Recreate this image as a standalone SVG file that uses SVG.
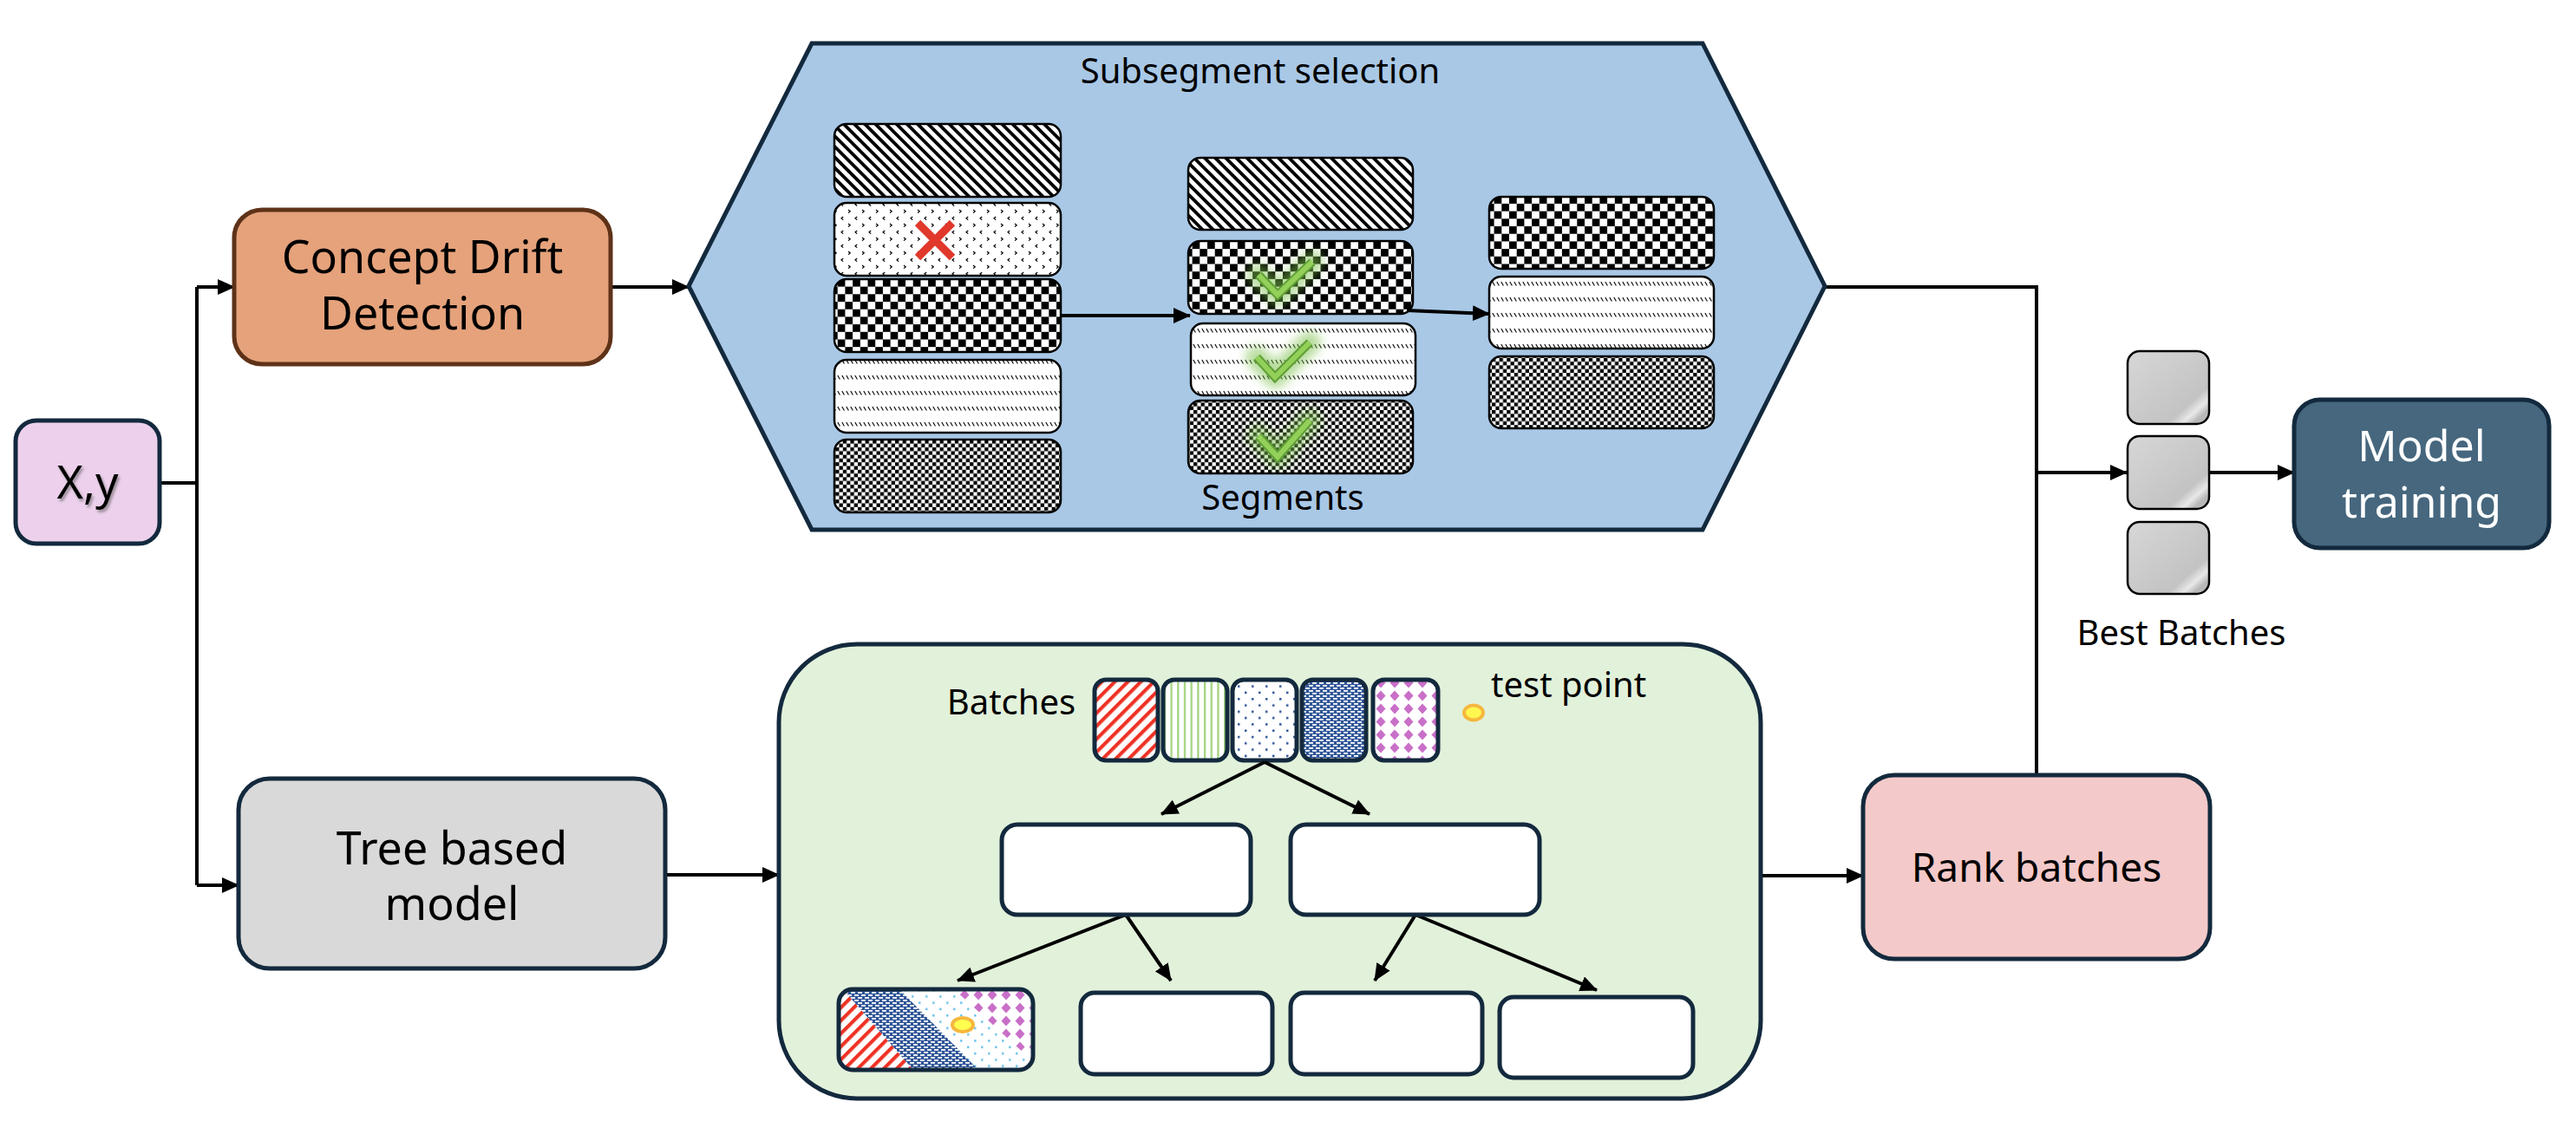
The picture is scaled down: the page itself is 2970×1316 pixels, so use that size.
<svg xmlns="http://www.w3.org/2000/svg" width="2970" height="1316" viewBox="0 0 2970 1316">
<style>
text { font-family: "Noto Sans", "Open Sans", "DejaVu Sans", sans-serif; fill: #000; }
.node { stroke: #13293D; stroke-width: 5; }
.conn { stroke: #000; stroke-width: 4; fill: none; }
.seg { stroke: #000; stroke-width: 2.5; }
.leaf { fill: #fff; stroke: #13293D; stroke-width: 5; }
.sw { stroke: #13293D; stroke-width: 5; }
.best { fill: url(#gGray); stroke: #000; stroke-width: 2.5; }
.chkglow { stroke: #7CC04A; stroke-width: 26; fill: none; opacity: 0.55; stroke-linecap: round; stroke-linejoin: round; }
.chkedge { stroke: #5E9E35; stroke-width: 10; fill: none; stroke-linejoin: miter; }
.chk { stroke: #93D05A; stroke-width: 6; fill: none; stroke-linejoin: miter; }
</style>
<defs>
  <marker id="ah" markerUnits="userSpaceOnUse" markerWidth="20" markerHeight="18" refX="19" refY="9" orient="auto" viewBox="0 0 20 18">
    <path d="M0,0 L20,9 L0,18 z" fill="#000"/>
  </marker>
  <filter id="shadow" x="-20%" y="-20%" width="140%" height="140%">
    <feDropShadow dx="2" dy="3" stdDeviation="1.5" flood-color="#555" flood-opacity="0.55"/>
  </filter>
  <filter id="glow" x="-50%" y="-50%" width="200%" height="200%">
    <feGaussianBlur stdDeviation="6"/>
  </filter>
  <linearGradient id="gGray" x1="0" y1="0" x2="1" y2="1">
    <stop offset="0" stop-color="#D7D7D7"/>
    <stop offset="0.74" stop-color="#C3C3C3"/>
    <stop offset="0.83" stop-color="#E8E8E8"/>
    <stop offset="0.9" stop-color="#B7B7B7"/>
    <stop offset="1" stop-color="#BEBEBE"/>
  </linearGradient>
  <!-- segment patterns -->
  <pattern id="pDiag" width="8.6" height="20" patternUnits="userSpaceOnUse" patternTransform="rotate(-45)">
    <rect width="8.6" height="20" fill="#fff"/>
    <rect width="3.8" height="20" fill="#000"/>
  </pattern>
  <pattern id="pDivot" width="16" height="16" patternUnits="userSpaceOnUse">
    <rect width="16" height="16" fill="#fff"/>
    <path d="M2,2 L4.2,3.8 L2,5.6 M12.2,10 L10,11.8 L12.2,13.6" stroke="#000" stroke-width="1.2" fill="none"/>
  </pattern>
  <pattern id="pCheckL" width="17.4" height="17.4" patternUnits="userSpaceOnUse">
    <rect width="17.4" height="17.4" fill="#fff"/>
    <rect width="8.7" height="8.7" fill="#000"/>
    <rect x="8.7" y="8.7" width="8.7" height="8.7" fill="#000"/>
  </pattern>
  <pattern id="pCheckS" width="8.6" height="8.6" patternUnits="userSpaceOnUse">
    <rect width="8.6" height="8.6" fill="#fff"/>
    <rect width="4.3" height="4.3" fill="#000"/>
    <rect x="4.3" y="4.3" width="4.3" height="4.3" fill="#000"/>
  </pattern>
  <pattern id="pDashDiag" width="5" height="18" patternUnits="userSpaceOnUse">
    <rect width="5" height="18" fill="#fff"/>
    <path d="M0.8,1 L3.4,5.5" stroke="#000" stroke-width="1.1"/>
  </pattern>
  <!-- batch patterns -->
  <pattern id="pRed" width="10.6" height="20" patternUnits="userSpaceOnUse" patternTransform="rotate(45)">
    <rect width="10.6" height="20" fill="#fff"/>
    <rect width="4.2" height="20" fill="#EE3224"/>
  </pattern>
  <pattern id="pGreen" width="7.7" height="10" patternUnits="userSpaceOnUse">
    <rect width="7.7" height="10" fill="#fff"/>
    <rect x="2" width="2.2" height="10" fill="#9ED27A"/>
  </pattern>
  <pattern id="pDots" width="16" height="14.6" patternUnits="userSpaceOnUse">
    <rect width="16" height="14.6" fill="#fff"/>
    <rect x="3" y="2" width="2.5" height="2.5" fill="#2F5597"/>
    <rect x="11" y="9.3" width="2.5" height="2.5" fill="#2F5597"/>
  </pattern>
  <pattern id="pLightDots" width="16" height="14.6" patternUnits="userSpaceOnUse">
    <rect width="16" height="14.6" fill="#fff"/>
    <rect x="3" y="2" width="2.5" height="2.5" fill="#6EC3EC"/>
    <rect x="11" y="9.3" width="2.5" height="2.5" fill="#6EC3EC"/>
  </pattern>
  <pattern id="pBlueDash" width="8" height="6" patternUnits="userSpaceOnUse">
    <rect width="8" height="6" fill="#2F5597"/>
    <rect x="1" y="1" width="5" height="1.8" fill="#fff"/>
    <rect x="5" y="4" width="3" height="1.8" fill="#fff"/>
    <rect x="0" y="4" width="2" height="1.8" fill="#fff"/>
  </pattern>
  <pattern id="pDiamond" width="16" height="15" patternUnits="userSpaceOnUse">
    <rect width="16" height="15" fill="#fff"/>
    <path d="M8,1.5 L13.5,7.5 L8,13.5 L2.5,7.5 z" fill="#C96FC8"/>
  </pattern>
  <clipPath id="leafClip"><rect x="967" y="1141" width="224" height="93" rx="16"/></clipPath>
</defs>

<rect width="2970" height="1316" fill="#fff"/>

<!-- connectors -->
<g id="connectors">
  <path class="conn" d="M184,557 H227 M227,331 V1021"/>
  <path class="conn" d="M227,331 H270" marker-end="url(#ah)"/>
  <path class="conn" d="M227,1021 H275" marker-end="url(#ah)"/>
  <path class="conn" d="M704,331 H794" marker-end="url(#ah)"/>
  <path class="conn" d="M2104,331 H2348 V894"/>
  <path class="conn" d="M2348,545 H2452" stroke-width="6" marker-end="url(#ah)"/>
  <path class="conn" d="M2547,545 H2645" marker-end="url(#ah)"/>
  <path class="conn" d="M767,1009 H898" marker-end="url(#ah)"/>
  <path class="conn" d="M2030,1010 H2148" marker-end="url(#ah)"/>
</g>

<!-- X,y -->
<g id="node-xy">
  <rect class="node" x="18" y="485" width="166" height="142" rx="24" fill="#EDD1EC" stroke="#000"/>
  <text x="101" y="575" font-size="52" text-anchor="middle" filter="url(#shadow)">X,y</text>
</g>

<!-- Concept Drift Detection -->
<g id="node-concept">
  <rect x="270" y="242" width="434" height="178" rx="32" fill="#E5A27B" stroke="#5E3218" stroke-width="5"/>
  <text x="487" y="315" font-size="52" text-anchor="middle">Concept Drift</text>
  <text x="487" y="380" font-size="52" text-anchor="middle">Detection</text>
</g>

<!-- Subsegment selection hexagon -->
<g id="node-subsegment">
  <polygon points="794,330 936,50 1963,50 2104,330 1963,611 936,611" fill="#A9C8E6" stroke="#13293D" stroke-width="5"/>
  <text x="1453" y="96" font-size="40" text-anchor="middle">Subsegment selection</text>
  <!-- left column -->
  <rect class="seg" x="962" y="143" width="261" height="84" rx="14" fill="url(#pDiag)"/>
  <rect class="seg" x="962" y="234" width="261" height="84" rx="14" fill="url(#pDivot)"/>
  <rect class="seg" x="962" y="322" width="261" height="84" rx="14" fill="url(#pCheckL)"/>
  <rect class="seg" x="962" y="415" width="261" height="84" rx="14" fill="url(#pDashDiag)"/>
  <rect class="seg" x="962" y="507" width="261" height="84" rx="14" fill="url(#pCheckS)"/>
  <path d="M1058,257 L1098,297 M1098,257 L1058,297" stroke="#E0382A" stroke-width="9"/>
  <!-- middle column -->
  <rect class="seg" x="1370" y="182" width="259" height="83" rx="14" fill="url(#pDiag)"/>
  <rect class="seg" x="1370" y="278" width="259" height="84" rx="14" fill="url(#pCheckL)"/>
  <rect class="seg" x="1373" y="373" width="259" height="83" rx="14" fill="url(#pDashDiag)"/>
  <rect class="seg" x="1370" y="462" width="259" height="84" rx="14" fill="url(#pCheckS)"/>
  <!-- right column -->
  <rect class="seg" x="1717" y="227" width="259" height="83" rx="14" fill="url(#pCheckL)"/>
  <rect class="seg" x="1717" y="319" width="259" height="83" rx="14" fill="url(#pDashDiag)"/>
  <rect class="seg" x="1717" y="411" width="259" height="83" rx="14" fill="url(#pCheckS)"/>
  <!-- checks -->
  <g filter="url(#glow)">
    <path class="chkglow" d="M1451,317 L1473,340 L1513,302"/>
    <path class="chkglow" d="M1449,412 L1470,435 L1510,395"/>
    <path class="chkglow" d="M1451,503 L1473,527 L1510,485"/>
  </g>
  <path class="chkedge" d="M1451,317 L1473,340 L1513,302"/>
  <path class="chk" d="M1451,317 L1473,340 L1513,302"/>
  <path class="chkedge" d="M1449,412 L1470,435 L1510,395"/>
  <path class="chk" d="M1449,412 L1470,435 L1510,395"/>
  <path class="chkedge" d="M1451,503 L1473,527 L1510,485"/>
  <path class="chk" d="M1451,503 L1473,527 L1510,485"/>
  <!-- inner arrows -->
  <path class="conn" d="M1223,364 H1372" marker-end="url(#ah)"/>
  <path class="conn" d="M1622,358 L1717,362" marker-end="url(#ah)"/>
  <text x="1479" y="588" font-size="40" text-anchor="middle">Segments</text>
</g>

<!-- Tree based model -->
<g id="node-tree">
  <rect class="node" x="275" y="898" width="492" height="219" rx="36" fill="#D9D9D9"/>
  <text x="521" y="997" font-size="52" text-anchor="middle">Tree based</text>
  <text x="521" y="1061" font-size="52" text-anchor="middle">model</text>
</g>

<!-- Green tree panel -->
<g id="node-batches-tree">
  <rect class="node" x="898" y="743" width="1132" height="524" rx="90" fill="#E2F1DA"/>
  <text x="1166" y="824" font-size="40" text-anchor="middle">Batches</text>
  <rect class="sw" x="1262" y="784" width="73" height="93" rx="13" fill="url(#pRed)"/>
  <rect class="sw" x="1341" y="784" width="74" height="93" rx="13" fill="url(#pGreen)"/>
  <rect class="sw" x="1421" y="784" width="74" height="93" rx="13" fill="url(#pDots)"/>
  <rect class="sw" x="1501" y="784" width="74" height="93" rx="13" fill="url(#pBlueDash)"/>
  <rect class="sw" x="1583" y="784" width="75" height="93" rx="13" fill="url(#pDiamond)"/>
  <ellipse cx="1699" cy="822" rx="11" ry="8.5" fill="#FFF650" stroke="#F5B73E" stroke-width="4"/>
  <text x="1719" y="804" font-size="40">test point</text>
  <!-- tree edges -->
  <path class="conn" d="M1458,879 L1339,939" marker-end="url(#ah)"/>
  <path class="conn" d="M1458,879 L1579,939" marker-end="url(#ah)"/>
  <path class="conn" d="M1298,1055 L1104,1131" marker-end="url(#ah)"/>
  <path class="conn" d="M1298,1055 L1350,1131" marker-end="url(#ah)"/>
  <path class="conn" d="M1632,1055 L1585,1131" marker-end="url(#ah)"/>
  <path class="conn" d="M1632,1055 L1841,1142" marker-end="url(#ah)"/>
  <!-- internal nodes -->
  <rect class="leaf" x="1155" y="951" width="287" height="104" rx="18"/>
  <rect class="leaf" x="1488" y="951" width="287" height="104" rx="18"/>
  <!-- leaves -->
  <g clip-path="url(#leafClip)">
    <rect x="967" y="1141" width="224" height="93" fill="url(#pLightDots)"/>
    <polygon points="955,1141 972,1141 1053,1234 955,1234" fill="url(#pRed)"/>
    <polygon points="972,1141 1037,1141 1128,1234 1053,1234" fill="url(#pBlueDash)"/>
    <polygon points="1100,1141 1195,1141 1195,1228" fill="url(#pDiamond)"/>
  </g>
  <ellipse cx="1110" cy="1182" rx="12" ry="8" fill="#FFFF50" stroke="#F5B73E" stroke-width="4"/>
  <rect x="967" y="1141" width="224" height="93" rx="16" fill="none" stroke="#13293D" stroke-width="5"/>
  <rect class="leaf" x="1246" y="1145" width="221" height="94" rx="16"/>
  <rect class="leaf" x="1488" y="1145" width="221" height="94" rx="16"/>
  <rect class="leaf" x="1729" y="1150" width="223" height="93" rx="16"/>
</g>

<!-- Rank batches -->
<g id="node-rank">
  <rect class="node" x="2148" y="894" width="400" height="212" rx="36" fill="#F4C9C9"/>
  <text x="2348" y="1017" font-size="46" text-anchor="middle">Rank batches</text>
</g>

<!-- Best batches -->
<g id="node-best">
  <rect class="best" x="2453" y="405" width="94" height="84" rx="14"/>
  <rect class="best" x="2453" y="503" width="94" height="84" rx="14"/>
  <rect class="best" x="2453" y="602" width="94" height="83" rx="14"/>
  <text x="2515" y="744" font-size="40" text-anchor="middle">Best Batches</text>
</g>

<!-- Model training -->
<g id="node-model">
  <rect class="node" x="2645" y="461" width="294" height="171" rx="30" fill="#46677E"/>
  <text x="2792" y="532" font-size="50" text-anchor="middle" style="fill:#fff">Model</text>
  <text x="2792" y="597" font-size="50" text-anchor="middle" style="fill:#fff">training</text>
</g>
</svg>
